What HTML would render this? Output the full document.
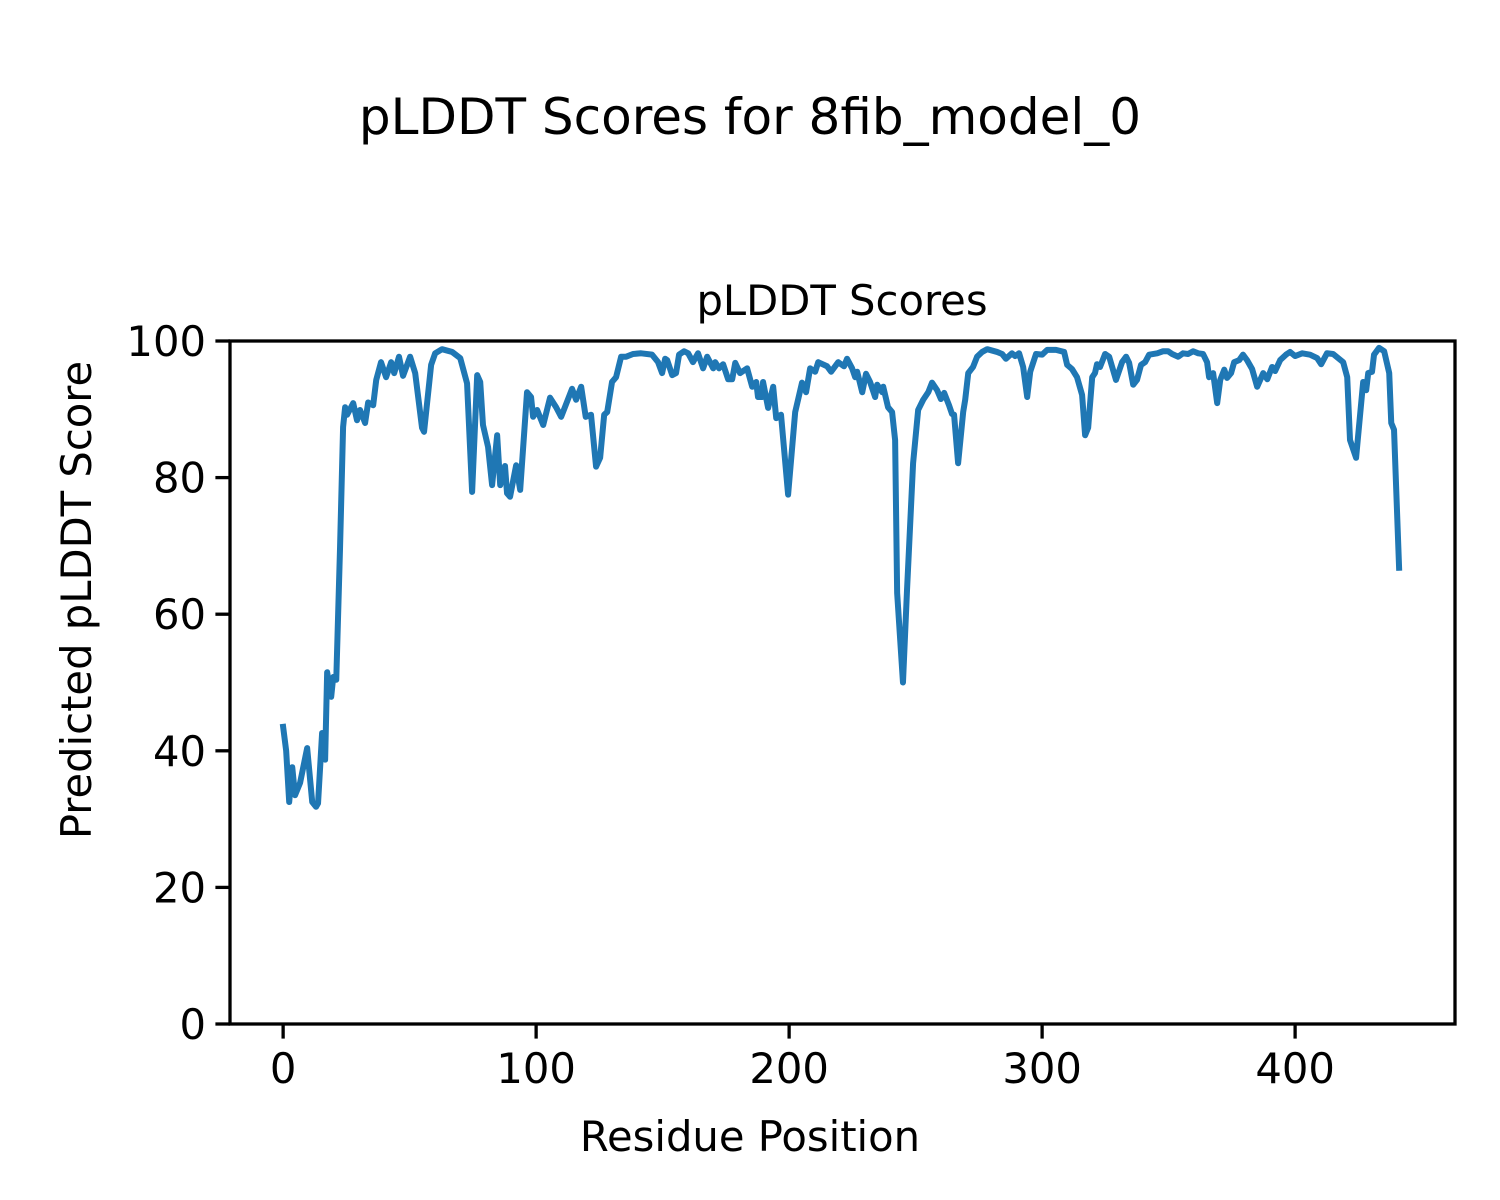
<!DOCTYPE html>
<html>
<head>
<meta charset="utf-8">
<style>
  html,body{margin:0;padding:0;background:#fff;}
  svg{display:block;font-family:"DejaVu Sans","Liberation Sans",sans-serif;}
</style>
</head>
<body>
<svg id="chart" width="1500" height="1200" viewBox="0 0 1500 1200" xmlns="http://www.w3.org/2000/svg">
  <rect x="0" y="0" width="1500" height="1200" fill="#ffffff"/>
  <text x="750" y="134" font-size="50" text-anchor="middle" fill="#000">pLDDT Scores for 8fib_model_0</text>
  <text x="842" y="315" font-size="41.7" text-anchor="middle" fill="#000">pLDDT Scores</text>
  <g id="plot"></g>
  <text x="750" y="1151" font-size="41.7" text-anchor="middle" fill="#000">Residue Position</text>
  <text x="0" y="0" font-size="41.7" text-anchor="middle" fill="#000" transform="translate(91,600) rotate(-90)">Predicted pLDDT Score</text>
</svg>
<script>
const residuePositions = [0,1.2,2.4,3.6,4.7,6.7,9.5,11.5,13,13.8,15.4,16.6,17.4,19,19.8,21,22.5,23.7,24.5,25.3,27.7,29.2,30.4,32.4,33.6,35.6,36.8,38.7,40.7,42.7,43.9,45.8,47.4,50.2,52.2,54.9,55.7,58.5,60.1,62.8,66.8,70,72.7,74.7,76.7,77.9,79,81,82.6,84.6,85.8,87.7,88.5,89.7,92.1,93.7,96.4,98,98.8,100.4,102.8,105.5,107.9,109.9,114.2,115.8,117.8,119.6,121.7,123.7,125.3,126.9,128.1,130,131.6,133.6,135.6,138.3,141.5,145.8,148.2,149.8,151,151.8,153.8,155.3,156.5,158.5,160.1,162,164,166,167.6,170,170.8,172.3,173.9,175.9,177.5,178.7,180.6,183.4,185.4,187,187.7,189.3,189.7,191.7,193.7,194.9,196.8,199.6,202.4,205.1,206.7,208.3,210.3,211.5,215,216.6,219.4,221.7,222.9,224.9,226.1,226.9,228.9,230.4,232,234,234.8,236.8,237.2,239.1,240.7,241.9,242.7,245,246.6,249,251,253,255,256.5,258.5,260,261.3,263.2,264.4,265.2,266.8,268.8,269.6,270.8,272.7,274.3,276.3,278.3,282.2,284.2,285.7,288.1,289.3,290.9,292.5,294.1,295.3,297.6,300,302,305.5,308.7,309.9,311.8,313.8,315.8,317,318.2,319.8,320.9,321.7,322.9,324.9,326.5,329.2,331.6,333.2,334.4,336,337.5,339.1,340.7,342.3,345.5,347.8,349.8,351.4,353.8,355.7,357.7,359.7,361.7,363.6,365.2,366,367.6,369.2,370.4,372,373.1,374.7,375.9,377.9,379.4,381,383,385,387.4,389,390.9,392.1,394.1,396.4,398,400,402.8,405.9,408.7,410.3,412.6,415,417,419,420.6,421.7,424.1,426.9,428.1,428.9,430.4,431.2,433.2,435.2,437.2,438,439.1,441.1];
const plddtScores = [43.5,40,32.5,37.6,33.5,35.3,40.4,32.5,31.8,32.3,42.6,38.7,51.5,47.9,50.8,50.4,69.8,87.4,90.3,89.2,90.9,88.4,89.9,88,91,90.6,94.3,96.9,94.7,96.9,95.3,97.7,94.9,97.7,95.3,87.3,86.7,96.5,98.2,98.8,98.4,97.5,93.8,77.9,95,94,87.7,84.5,78.9,86.2,78.9,81.7,77.7,77.2,81.8,78.2,92.5,91.8,88.9,89.9,87.7,91.7,90.3,88.9,93,91.4,93.3,88.9,89.2,81.6,82.9,89.2,89.6,94,94.7,97.7,97.7,98.1,98.2,98,96.9,95.3,97.4,97.2,95,95.3,98,98.5,98.2,96.9,98.2,96,97.7,96,96.9,96,96.6,94.4,94.4,96.8,95.3,96,93.3,94,91.8,91.8,94,90.2,93.3,88.7,89.2,77.5,89.6,93.9,92.5,96,95.5,96.9,96.3,95.5,96.9,96.3,97.4,96,94.7,95.5,92.5,95.2,94,91.8,93.6,92.5,93.3,90.3,89.6,85.5,63.1,50,63.5,82.1,89.9,91.4,92.5,93.9,92.8,91.5,92.4,90.6,89.3,89.2,82.1,89.6,91.4,95.3,96.2,97.7,98.4,98.8,98.4,98.1,97.4,98.2,97.8,98.2,96.2,91.8,95.5,98.1,98,98.7,98.7,98.4,96.5,95.9,94.7,92.1,86.2,87.3,94.7,95.3,96.6,96.2,98.1,97.7,94.3,96.9,97.7,96.8,93.6,94.3,96.5,96.9,98,98.2,98.5,98.5,98.1,97.7,98.2,98.1,98.5,98.2,98.1,96.9,94.7,95.3,90.9,94.3,95.8,94.6,95.3,96.9,97.2,98,97.2,95.9,93.3,95.3,94.4,96.2,95.6,97.2,98,98.4,97.8,98.2,98,97.5,96.6,98.2,98.1,97.5,96.9,94.7,85.5,82.9,94,92.8,95.3,95.5,98,99,98.5,95.3,88,87,66.8];
const xTicks = [0,100,200,300,400];
const yTicks = [0,20,40,60,80,100];
const xTickLabels = ["0","100","200","300","400"];
const yTickLabels = ["0","20","40","60","80","100"];

const L=230, R=1455, T=341, B=1024;
const xMin=-21, xMax=463.2, yMin=0, yMax=100;
function xs(v){ return L + (v - xMin) / (xMax - xMin) * (R - L); }
function ys(v){ return B - (v - yMin) / (yMax - yMin) * (B - T); }

const NS="http://www.w3.org/2000/svg";
const plot=document.getElementById('plot');
function mk(tag, attrs){ const e=document.createElementNS(NS,tag); for(const k in attrs) e.setAttribute(k,attrs[k]); return e; }

let d='';
for(let i=0;i<residuePositions.length;i++){
  d += (i?'L':'M') + xs(residuePositions[i]).toFixed(2) + ',' + ys(plddtScores[i]).toFixed(2);
}
const line=mk('path',{d:d,fill:'none',stroke:'#1f77b4','stroke-width':'6','stroke-linejoin':'round','stroke-linecap':'square'});


plot.appendChild(line);

const frame=mk('rect',{x:L,y:T,width:R-L,height:B-T,fill:'none',stroke:'#000','stroke-width':'3.3'});


plot.appendChild(frame);

for(let i=0;i<xTicks.length;i++){
  const x=xs(xTicks[i]);
  const t=mk('line',{x1:x,x2:x,y1:B,y2:B+14.6,stroke:'#000','stroke-width':'3.3'});
  
  
  plot.appendChild(t);
  const lb=mk('text',{x:x,y:B+59,'font-size':'41.7','text-anchor':'middle',fill:'#000'});
  lb.textContent=xTickLabels[i];
  
  
  plot.appendChild(lb);
}
for(let i=0;i<yTicks.length;i++){
  const y=ys(yTicks[i]);
  const t=mk('line',{x1:L-14.6,x2:L,y1:y,y2:y,stroke:'#000','stroke-width':'3.3'});
  
  
  plot.appendChild(t);
  const lb=mk('text',{x:L-24,y:y+15,'font-size':'41.7','text-anchor':'end',fill:'#000'});
  lb.textContent=yTickLabels[i];
  
  
  plot.appendChild(lb);
}
</script>
</body>
</html>
